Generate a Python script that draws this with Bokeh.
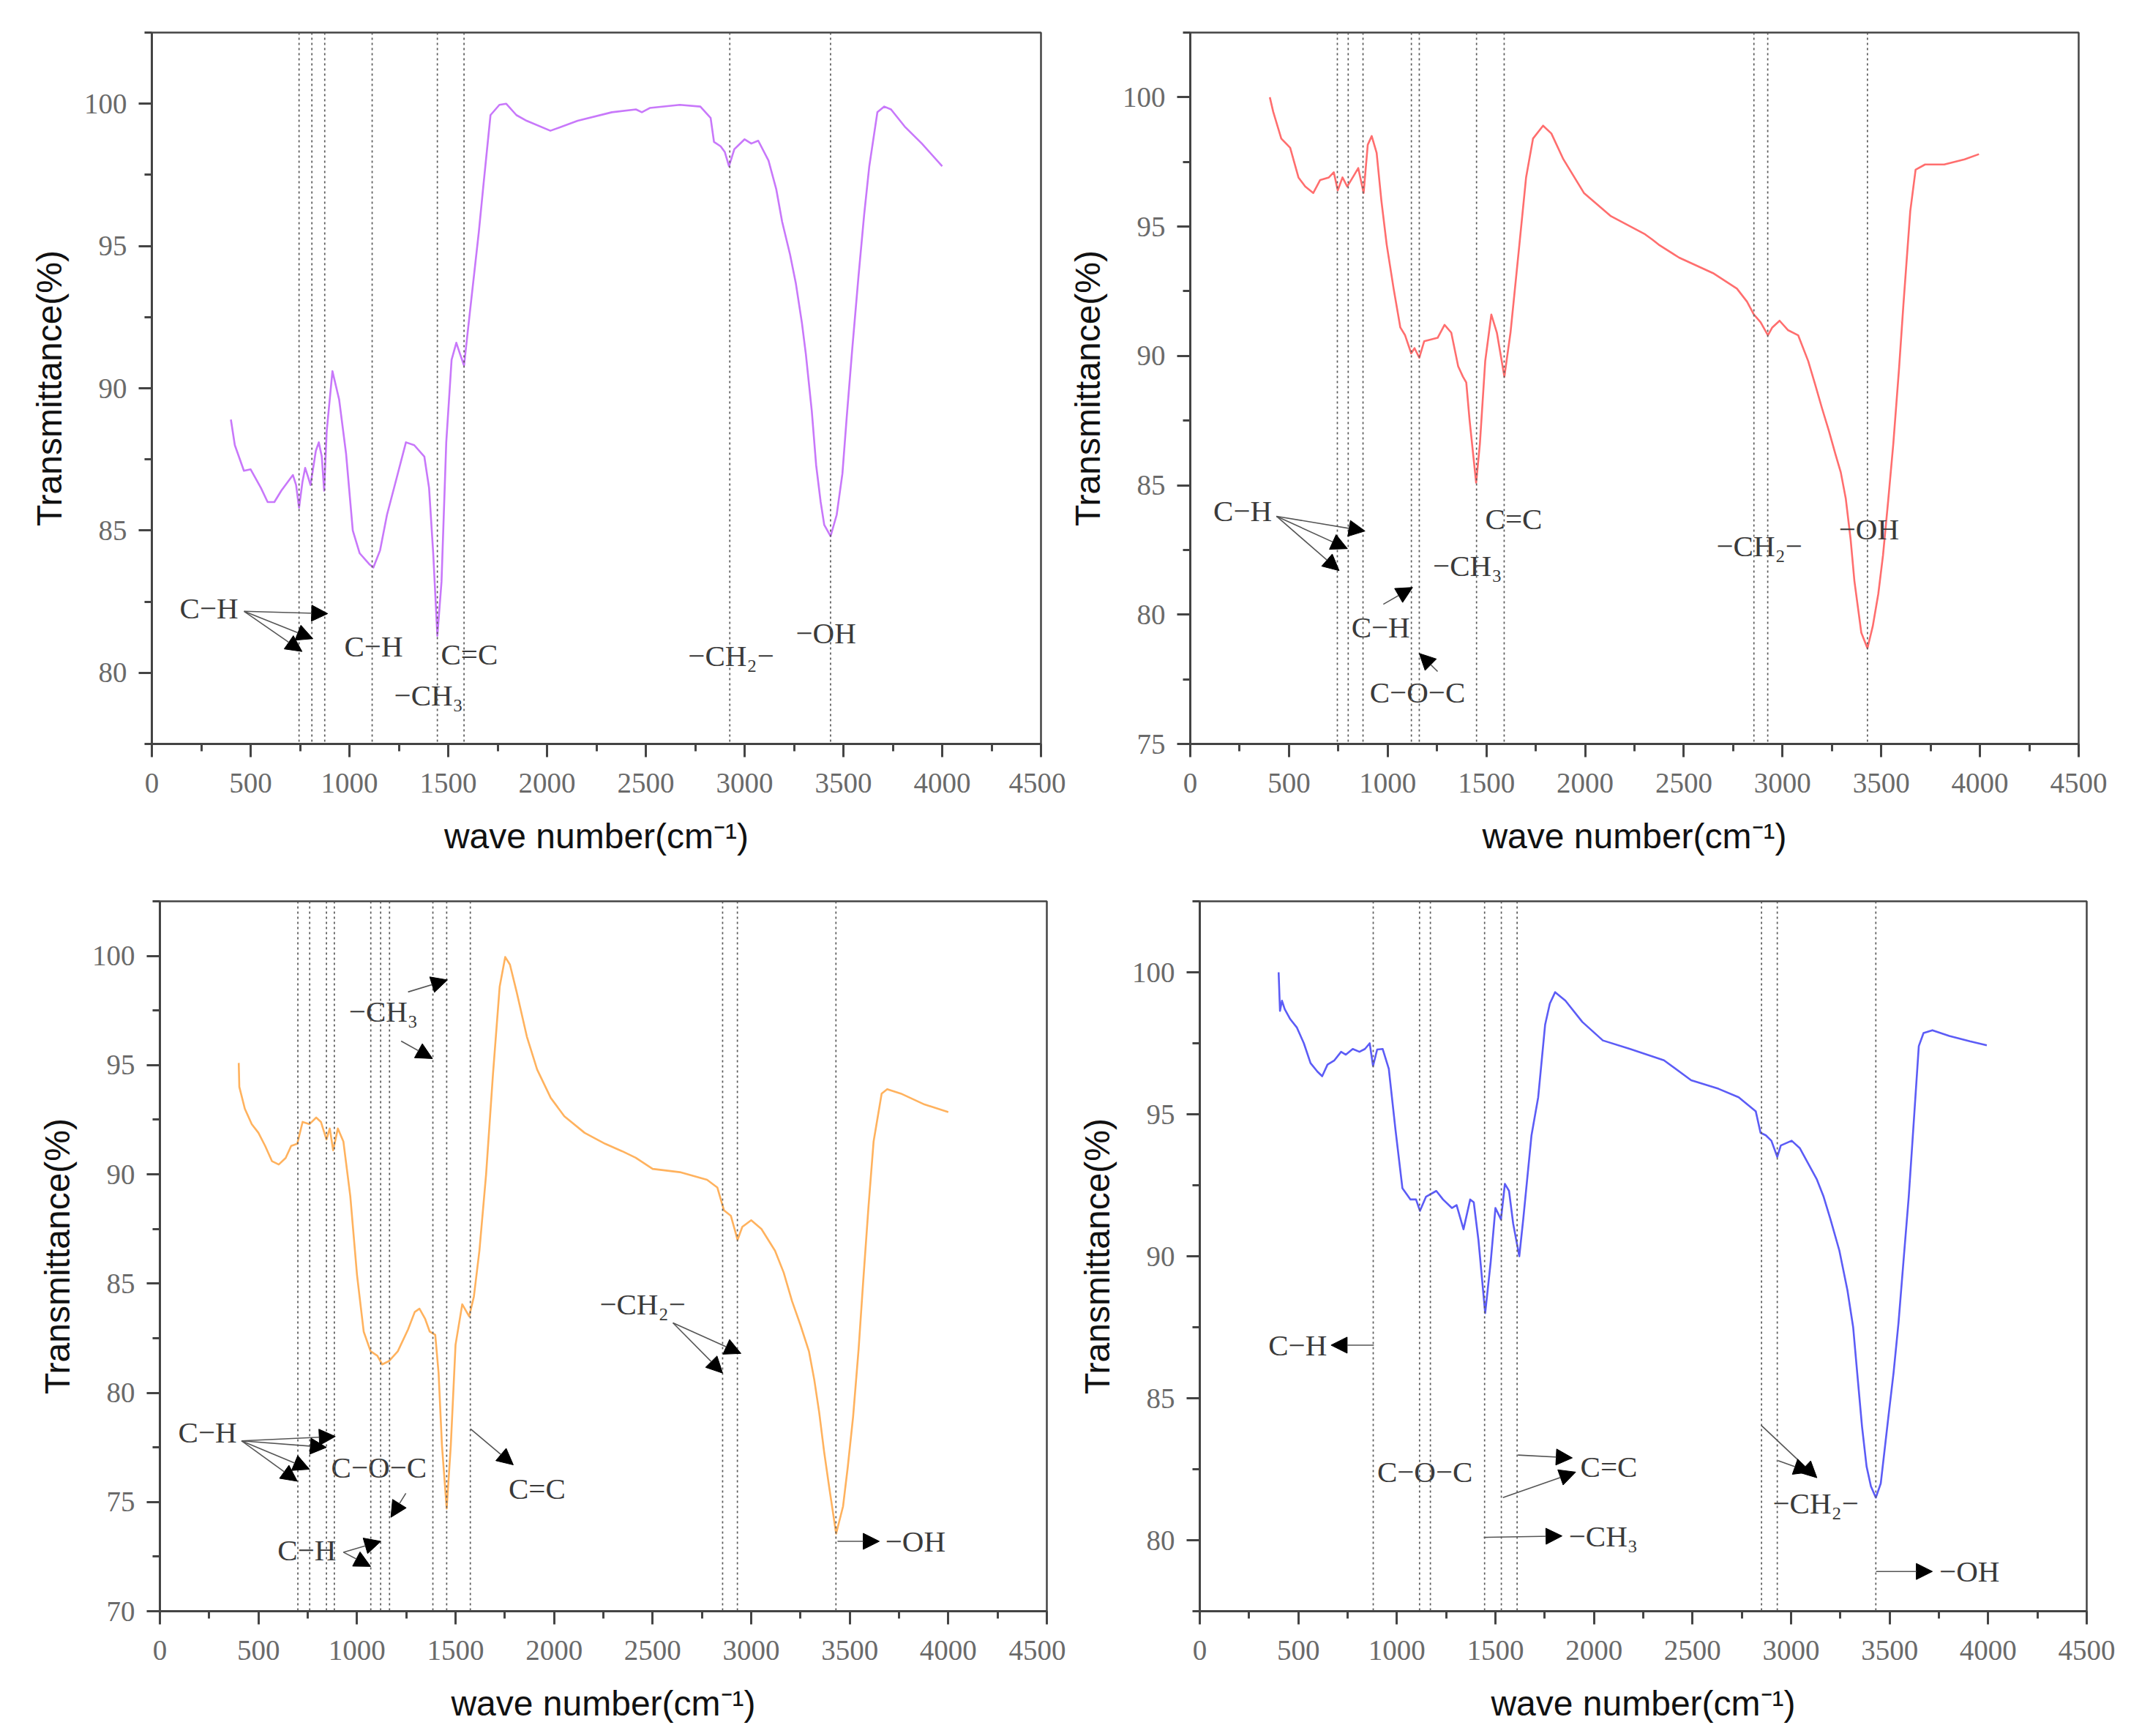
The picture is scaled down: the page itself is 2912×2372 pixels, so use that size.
from bokeh.plotting import figure
from bokeh.models import ColumnDataSource, Arrow, NormalHead, Span, SingleIntervalTicker, Range1d
from bokeh.layouts import column, row
from bokeh.core.properties import value
from bokeh.embed import file_html
from bokeh.resources import INLINE

# ---- spectrum (a) purple
wn_a = [400, 420, 466, 500, 552, 586, 620, 655, 714, 730, 745, 762, 776, 790, 803, 830, 845, 860,
        872, 885, 914, 948, 983, 1017, 1052, 1103, 1121, 1155, 1190, 1241, 1286, 1328, 1379, 1403,
        1424, 1445, 1466, 1490, 1517, 1541, 1560, 1580, 1610, 1655, 1679, 1714, 1759, 1793, 1845,
        1897, 2017, 2155, 2328, 2450, 2480, 2520, 2672, 2776, 2828, 2845, 2879, 2900, 2921, 2948,
        3000, 3034, 3069, 3121, 3160, 3190, 3230, 3259, 3290, 3310, 3340, 3362, 3385, 3403, 3435,
        3466, 3495, 3517, 3545, 3576, 3605, 3631, 3672, 3707, 3741, 3810, 3897, 4000]
tr_a = [88.9, 88.0, 87.1, 87.15, 86.5, 86.0, 86.0, 86.4, 86.95, 86.6, 85.8, 86.7, 87.2, 86.9,
        86.6, 87.8, 88.1, 87.6, 86.4, 88.5, 90.6, 89.6, 87.7, 85.0, 84.2, 83.8, 83.7, 84.3, 85.55,
        86.9, 88.1, 88.0, 87.6, 86.5, 84.2, 81.3, 83.2, 88.1, 91.0, 91.6, 91.2, 90.8, 92.7, 95.5,
        97.2, 99.6, 99.96, 100.0, 99.6, 99.4, 99.05, 99.4, 99.7, 99.8, 99.7, 99.85, 99.96, 99.9,
        99.5, 98.66, 98.5, 98.3, 97.8, 98.4, 98.75, 98.6, 98.7, 98.0, 97.0, 95.85, 94.7, 93.7,
        92.3, 91.2, 89.2, 87.3, 86.0, 85.2, 84.8, 85.55, 87.0, 89.0, 91.4, 93.9, 96.1, 97.8, 99.7,
        99.9, 99.8, 99.2, 98.6, 97.8]
vl_a = [745, 810, 875, 1115, 1445, 1580, 2925, 3435]
lab_a = ["C−H", "C−H", "C=C", "−CH₃", "−CH₂−", "−OH"]
lx_a = [141, 974, 1463, 1226, 2714, 3259]
ly_a = [82.26, 80.94, 80.64, 79.2, 80.6, 81.4]
ax0_a = [467, 467, 467]
ay0_a = [82.16, 82.16, 82.16]
ax1_a = [890, 815, 760]
ay1_a = [82.08, 81.2, 80.75]

# ---- spectrum (b) red
wn_b = [403, 420, 461, 506, 548, 582, 623, 658, 702, 727, 747, 771, 795, 823, 851, 878, 899, 919,
        944, 968, 995, 1030, 1064, 1088, 1119, 1136, 1160, 1185, 1253, 1288, 1322, 1357, 1381,
        1398, 1415, 1448, 1467, 1494, 1525, 1553, 1591, 1622, 1667, 1701, 1736, 1787, 1829, 1890,
        1994, 2131, 2304, 2340, 2373, 2476, 2648, 2769, 2820, 2855, 2889, 2926, 2948, 2985, 3027,
        3079, 3130, 3165, 3199, 3235, 3268, 3295, 3320, 3345, 3364, 3399, 3430, 3457, 3485, 3509,
        3535, 3561, 3590, 3612, 3647, 3674, 3722, 3819, 3922, 3995]
tr_b = [100.0, 99.44, 98.4, 98.05, 96.9, 96.55, 96.3, 96.8, 96.9, 97.1, 96.4, 96.9, 96.55, 96.9,
        97.26, 96.3, 98.16, 98.5, 97.85, 96.0, 94.3, 92.6, 91.1, 90.8, 90.1, 90.3, 89.93, 90.57,
        90.7, 91.2, 90.9, 89.6, 89.2, 88.97, 87.5, 85.1, 86.6, 89.8, 91.6, 90.9, 89.2, 90.9, 94.3,
        96.9, 98.4, 98.9, 98.6, 97.6, 96.3, 95.4, 94.7, 94.5, 94.3, 93.8, 93.2, 92.6, 92.1, 91.6,
        91.3, 90.8, 91.1, 91.36, 91.0, 90.8, 89.8, 88.9, 88.0, 87.1, 86.2, 85.5, 84.5, 82.9, 81.3,
        79.3, 78.7, 79.55, 80.8, 82.3, 84.4, 86.6, 89.5, 91.96, 95.6, 97.2, 97.4, 97.4, 97.6, 97.8]
vl_b = [745, 800, 875, 1120, 1160, 1450, 1590, 2855, 2925, 3430]
lab_b = ["C−H", "C−H", "C−O−C", "−CH₃", "C=C", "−CH₂−", "−OH"]
lx_b = [117, 816, 909, 1229, 1494, 2665, 3285]
ly_b = [84.0, 79.5, 77.0, 81.9, 83.7, 82.65, 83.3]
ax0_b = [437, 437, 437, 978, 1253]
ay0_b = [83.8, 83.8, 83.8, 80.4, 77.8]
ax1_b = [885, 796, 754, 1126, 1160]
ay1_b = [83.23, 82.55, 81.7, 81.05, 78.5]

# ---- spectrum (c) orange
wn_c = [400, 403, 431, 466, 500, 534, 569, 603, 638, 666, 697, 724, 759, 793, 817, 845, 862, 879,
        903, 931, 966, 1000, 1034, 1069, 1103, 1128, 1162, 1207, 1259, 1293, 1317, 1345, 1369,
        1397, 1414, 1431, 1455, 1476, 1500, 1534, 1569, 1593, 1621, 1655, 1690, 1724, 1752, 1776,
        1810, 1862, 1914, 1983, 2052, 2155, 2259, 2345, 2414, 2500, 2638, 2776, 2828, 2862, 2897,
        2931, 2955, 3000, 3052, 3121, 3165, 3207, 3250, 3293, 3320, 3345, 3370, 3397, 3431, 3466,
        3490, 3517, 3545, 3569, 3595, 3621, 3662, 3690, 3759, 3879, 4000]
tr_c = [95.1, 94.0, 93.0, 92.3, 91.9, 91.3, 90.6, 90.45, 90.75, 91.3, 91.4, 92.4, 92.3, 92.6,
        92.4, 91.6, 92.1, 91.1, 92.1, 91.5, 89.0, 85.4, 82.8, 81.9, 81.7, 81.3, 81.45, 81.9, 82.9,
        83.7, 83.85, 83.4, 82.8, 82.65, 80.9, 77.6, 74.7, 77.6, 82.2, 84.05, 83.5, 84.4, 86.5,
        90.0, 94.6, 98.6, 99.95, 99.6, 98.35, 96.3, 94.8, 93.5, 92.66, 91.9, 91.4, 91.06, 90.76,
        90.25, 90.1, 89.75, 89.4, 88.35, 88.1, 87.0, 87.6, 87.9, 87.5, 86.5, 85.5, 84.2, 83.1, 81.9,
        80.6, 79.1, 77.3, 75.6, 73.55, 74.8, 76.6, 78.9, 82.0, 85.2, 88.5, 91.5, 93.7, 93.9, 93.7,
        93.2, 92.85]
vl_c = [700, 760, 845, 885, 1070, 1120, 1165, 1385, 1455, 1575, 2855, 2930, 3430]
lab_c = ["−CH₃", "−CH₂−", "C−H", "C−O−C", "C−H", "C=C", "−OH"]
lx_c = [959, 2231, 93, 869, 597, 1769, 3680]
ly_c = [97.47, 84.05, 78.2, 76.6, 72.8, 75.6, 73.2]
ax0_c = [1259, 1224, 2603, 2603, 414, 414, 414, 414, 1248, 931, 931, 1576, 3438]
ay0_c = [98.35, 96.1, 83.2, 83.2, 77.8, 77.8, 77.8, 77.8, 75.4, 72.7, 72.7, 78.35, 73.2]
ax1_c = [1459, 1383, 2948, 2855, 890, 845, 759, 697, 1172, 1121, 1069, 1793, 3650]
ay1_c = [98.9, 95.3, 81.8, 80.9, 78.0, 77.5, 76.5, 75.95, 74.3, 73.2, 72.05, 76.7, 73.2]

# ---- spectrum (d) blue
wn_d = [400, 407, 417, 431, 459, 493, 528, 562, 597, 621, 648, 683, 717, 741, 776, 810, 838, 862,
        879, 900, 928, 959, 993, 1028, 1069, 1097, 1117, 1148, 1200, 1234, 1279, 1303, 1338, 1372,
        1390, 1414, 1448, 1476, 1500, 1528, 1548, 1569, 1590, 1621, 1641, 1683, 1717, 1752, 1776,
        1803, 1855, 1941, 2045, 2183, 2355, 2493, 2631, 2734, 2821, 2845, 2872, 2900, 2930, 2948,
        3003, 3045, 3131, 3165, 3200, 3245, 3286, 3315, 3338, 3360, 3383, 3405, 3430, 3455, 3493,
        3520, 3545, 3570, 3597, 3625, 3648, 3672, 3717, 3803, 3907, 3993]
tr_d = [100.0, 98.64, 99.0, 98.7, 98.35, 98.05, 97.5, 96.8, 96.5, 96.34, 96.75, 96.9, 97.2, 97.1,
        97.3, 97.2, 97.3, 97.5, 96.7, 97.28, 97.3, 96.6, 94.45, 92.4, 92.0, 92.0, 91.6, 92.1, 92.3,
        92.0, 91.7, 91.8, 90.95, 92.0, 91.9, 90.56, 88.0, 89.8, 91.7, 91.3, 92.55, 92.3, 91.15,
        90.0, 91.3, 94.26, 95.6, 98.15, 98.9, 99.3, 99.0, 98.25, 97.6, 97.3, 96.9, 96.2, 95.9,
        95.6, 95.1, 94.35, 94.26, 94.07, 93.5, 93.9, 94.07, 93.8, 92.7, 92.1, 91.3, 90.2, 88.8,
        87.5, 85.7, 84.0, 82.6, 81.9, 81.5, 82.0, 84.3, 85.9, 87.65, 89.8, 92.1, 95.0, 97.4, 97.86,
        97.96, 97.76, 97.57, 97.43]
vl_d = [880, 1115, 1170, 1445, 1530, 1610, 2850, 2930, 3430]
lab_d = ["C−H", "C−O−C", "C=C", "−CH₃", "−CH₂−", "−OH"]
lx_d = [348, 900, 1931, 1872, 2907, 3752]
ly_d = [86.87, 82.4, 82.6, 80.15, 81.3, 78.9]
ax0_d = [883, 1614, 1538, 1441, 2848, 2934, 3431]
ay0_d = [86.87, 83.0, 81.5, 80.1, 84.05, 82.8, 78.9]
ax1_d = [666, 1890, 1907, 1838, 3131, 3097, 3717]
ay1_d = [86.87, 82.9, 82.4, 80.15, 82.2, 82.4, 78.9]

SERIF = "Liberation Serif"
SANS = "Liberation Sans"


def make_panel(wn, tr, color, ymin, vlines, labels, lx, ly, ax0, ay0, ax1, ay1,
               left, right, top, bottom, fw, fh):
    p = figure(frame_width=fw, frame_height=fh, output_backend="svg", toolbar_location=None,
               x_range=Range1d(0, 4500), y_range=Range1d(ymin, 102.5),
               min_border_left=left, min_border_right=right,
               min_border_top=top, min_border_bottom=bottom)
    p.grid.visible = False
    p.background_fill_color = "white"
    p.border_fill_color = "white"
    p.outline_line_color = "#444444"
    p.outline_line_width = 2.5

    p.xaxis.ticker = SingleIntervalTicker(interval=500, num_minor_ticks=2)
    p.yaxis.ticker = SingleIntervalTicker(interval=5, num_minor_ticks=2)
    p.xaxis.axis_label = "wave number(cm⁻¹)"
    p.yaxis.axis_label = "Transmittance(%)"
    for ax in (p.xaxis, p.yaxis):
        ax.axis_line_color = "#444444"
        ax.axis_line_width = 3
        ax.major_tick_line_color = "#444444"
        ax.major_tick_line_width = 3
        ax.minor_tick_line_color = "#444444"
        ax.minor_tick_line_width = 3
        ax.major_tick_in = 0
        ax.major_tick_out = 18
        ax.minor_tick_in = 0
        ax.minor_tick_out = 10
        ax.major_label_text_font = SERIF
        ax.major_label_text_font_size = "39px"
        ax.major_label_text_color = "#6a6a6a"
        ax.axis_label_text_font = SANS
        ax.axis_label_text_font_size = "48px"
        ax.axis_label_text_font_style = "normal"
        ax.axis_label_text_color = "#111111"
    p.xaxis.major_label_standoff = 22
    p.yaxis.major_label_standoff = 16
    p.xaxis.axis_label_standoff = 30
    p.yaxis.axis_label_standoff = 18

    for v in vlines:
        p.add_layout(Span(location=v, dimension="height", line_color="#5a5a5a",
                          line_width=1.7, line_dash="3 4"))

    p.line(wn, tr, line_color=color, line_width=2.6, line_join="round")

    asrc = ColumnDataSource(dict(x0=ax0, y0=ay0, x1=ax1, y1=ay1))
    p.add_layout(Arrow(end=NormalHead(size=22, fill_color="black", line_color="black"),
                       x_start="x0", y_start="y0", x_end="x1", y_end="y1",
                       line_color="#555555", line_width=1.6, source=asrc))

    tsrc = ColumnDataSource(dict(x=lx, y=ly, t=labels))
    p.text(x="x", y="y", text="t", source=tsrc, text_font=value(SERIF),
           text_font_size="41px", text_color="#3a3a3a",
           text_align="left", text_baseline="middle")
    return p


p1 = make_panel(wn_a, tr_a, "#C878FA", 77.5, vl_a, lab_a, lx_a, ly_a, ax0_a, ay0_a, ax1_a, ay1_a,
                207, 34, 44, 172, 1215, 972)
p2 = make_panel(wn_b, tr_b, "#FF6E6E", 75, vl_b, lab_b, lx_b, ly_b, ax0_b, ay0_b, ax1_b, ay1_b,
                168, 66, 43, 173, 1214, 972)
p3 = make_panel(wn_c, tr_c, "#FFB25E", 70, vl_c, lab_c, lx_c, ly_c, ax0_c, ay0_c, ax1_c, ay1_c,
                218, 26, 43, 166, 1212, 970)
p4 = make_panel(wn_d, tr_d, "#5C5CF6", 77.5, vl_d, lab_d, lx_d, ly_d, ax0_d, ay0_d, ax1_d, ay1_d,
                183, 53, 43, 166, 1212, 970)

layout = column(row(p1, p2), row(p3, p4))

open("out.html", "w").write(file_html(layout, INLINE))
